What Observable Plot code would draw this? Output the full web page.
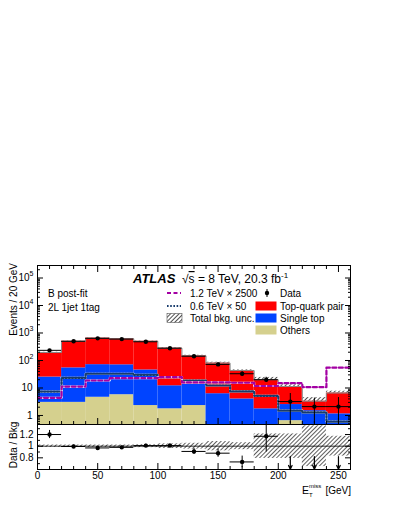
<!DOCTYPE html>
<html><head><meta charset="utf-8">
<script src="https://cdn.jsdelivr.net/npm/d3@7"></script>
<script src="https://cdn.jsdelivr.net/npm/@observablehq/plot@0.6"></script>
<style>
body{margin:0;background:#fff;}
#chart{position:relative;width:399px;height:516px;background:#fff;}
#chart svg{display:block;}
</style></head><body><div id="chart"></div>
<script>
// ---- data ----
const binEdges  = [0,20,40,60,80,100,120,140,160,180,200,220,240,260];
const others    = [3.0,3.0,4.6,5.7,2.3,1.75,2.3,0,0,0,0.65,0,0];
const singleTop = [22,51,66,64,43,10.3,11.7,6.2,4.0,1.75,1.85,1.5,1.15];
const ttbar     = [170,446,580,545,455,268,134,74,39,18.3,8.8,1.8,5.4];
const bkgUnc    = [0.02,0.02,0.02,0.02,0.025,0.04,0.05,0.08,0.06,0.21,0.21,0.35,0.17];
const dataVals  = [234,500,640,600,480,280,143,72,33,20,3.2,2.1,2.1];
const dataLo    = [219,478,615,576,458,263,131,64,27,16,0.5,0.5,0.5];
const dataHi    = [249,522,665,624,502,297,155,81,39,24.5,6.3,4.3,4.5];
const sig1200   = [4.4,11.3,18.7,22.7,23,25,16,16,15.5,11.8,15,10.7,55];
const sig600    = [7.4,23.5,33,33,30,25,18.7,12.3,7.5,5.2,1.5,1.3,0.6];
const ratioVals = [1.20,0.995,0.97,0.98,1.01,1.01,0.91,0.88,0.73,1.17,null,null,null];
const ratioErr  = [0.07,0.02,0.02,0.02,0.025,0.03,0.05,0.07,0.1,0.27,null,null,null];
const arrowBins = [10,11,12];
const yMajor    = [1,10,100,1e3,1e4,1e5];
const xMajor    = [0,50,100,150,200,250];
const rMajor    = [0.8,1,1.2];

// ---- colours / fonts ----
const C = {tt:"#ff0000", st:"#0044ff", oth:"#d5d08e", s1200:"#a300a3", s600:"#173b6c"};
const FONT = "'Liberation Sans', Arial, Helvetica, sans-serif";

const n = ttbar.length;
const idx = d3.range(n);
const centers = idx.map(i => (binEdges[i] + binEdges[i+1]) / 2);
const FLOOR = 0.1;
const rows = idx.map(i => {
  const a = others[i], b = a + singleTop[i], c = b + ttbar[i];
  return {x1: binEdges[i], x2: binEdges[i+1], o2: a, s1: Math.max(a, FLOOR), s2: b, t1: b, t2: c, u: bkgUnc[i]};
});
const steps = vals => vals.flatMap((v, i) => [{x: binEdges[i], y: v}, {x: binEdges[i+1], y: v}]);
const yDomain = [0.47, 2.85e5];
const yMinor = [];
for (let e = -1; e <= 5; e++) for (let m = 2; m <= 9; m++) { const v = m * 10 ** e; if (v >= yDomain[0] && v <= yDomain[1]) yMinor.push(v); }
const xMinor = d3.range(0, 261, 10).filter(v => v % 50 !== 0);
const rMinor = [0.7, 0.9, 1.1, 1.3];

const common = {width: 399, marginLeft: 37, marginRight: 49,
  style: {fontFamily: FONT, fontSize: "10px", background: "white", color: "black", overflow: "visible"}};

const main = Plot.plot({
  ...common, height: 424, marginTop: 265, marginBottom: 0,
  x: {domain: [0, 260]},
  y: {type: "log", domain: yDomain},
  marks: [
    Plot.rect(rows.filter(r => r.o2 > 0), {x1: "x1", x2: "x2", y1: () => FLOOR, y2: "o2", fill: C.oth, clip: true}),
    Plot.rect(rows, {x1: "x1", x2: "x2", y1: "s1", y2: "s2", fill: C.st, clip: true}),
    Plot.rect(rows, {x1: "x1", x2: "x2", y1: "t1", y2: "t2", fill: C.tt, clip: true}),
    Plot.rect(rows, {x1: "x1", x2: "x2", y1: "t2", y2: r => r.t2 * (1 + r.u), fill: "url(#hatchM)", clip: true}),
    Plot.line(steps(rows.map(r => r.t2)), {x: "x", y: "y", stroke: "#8a8a8a", strokeWidth: 1, clip: true}),
    Plot.line(steps(sig600), {x: "x", y: "y", stroke: "white", strokeWidth: 2.2, clip: true}),
    Plot.line(steps(sig600), {x: "x", y: "y", stroke: C.s600, strokeWidth: 2.2, strokeDasharray: "1.6,1.6", clip: true}),
    Plot.line(steps(sig1200), {x: "x", y: "y", stroke: "white", strokeWidth: 2.2, clip: true}),
    Plot.line(steps(sig1200), {x: "x", y: "y", stroke: C.s1200, strokeWidth: 2.2, strokeDasharray: "4,2.5", clip: true}),
    Plot.ruleX(idx, {x: i => centers[i], y1: i => dataLo[i], y2: i => dataHi[i], stroke: "black", strokeWidth: 1, clip: true}),
    Plot.ruleY(idx, {y: i => dataVals[i], x1: i => binEdges[i], x2: i => binEdges[i+1], stroke: "black", strokeWidth: 1, clip: true}),
    Plot.dot(idx, {x: i => centers[i], y: i => dataVals[i], r: 2.2, fill: "black", stroke: "none"}),
    // inward ticks
    Plot.axisY(yMajor, {anchor: "left", tickSize: -6, fill: "none", label: null}),
    Plot.axisY(yMinor, {anchor: "left", tickSize: -3, fill: "none", label: null}),
    Plot.axisY(yMajor, {anchor: "right", tickSize: -6, fill: "none", label: null}),
    Plot.axisY(yMinor, {anchor: "right", tickSize: -3, fill: "none", label: null}),
    Plot.axisX(xMajor, {anchor: "bottom", tickSize: -6, fill: "none", label: null}),
    Plot.axisX(xMinor, {anchor: "bottom", tickSize: -3, fill: "none", label: null}),
    Plot.axisX(xMajor, {anchor: "top", tickSize: -6, fill: "none", label: null}),
    Plot.axisX(xMinor, {anchor: "top", tickSize: -3, fill: "none", label: null}),
    // y tick labels with exponents
    Plot.text(yMajor.filter(d => d < 50), {y: d => d, frameAnchor: "left", textAnchor: "end", dx: -5, text: d => String(d), fontSize: 10, fill: "black"}),
    Plot.text(yMajor.filter(d => d >= 50), {y: d => d, frameAnchor: "left", textAnchor: "end", dx: -8, text: () => "10", fontSize: 10, fill: "black"}),
    Plot.text(yMajor.filter(d => d >= 50), {y: d => d, frameAnchor: "left", textAnchor: "start", dx: -8, dy: -4, text: d => String(Math.round(Math.log10(d))), fontSize: 7, fill: "black"}),
    Plot.frame({stroke: "black", strokeWidth: 1})
  ]
});

const ratioIdx = idx.filter(i => ratioVals[i] != null);
const ratio = Plot.plot({
  ...common, height: 92, marginTop: 0, marginBottom: 47,
  x: {domain: [0, 260]},
  y: {domain: [0.6, 1.372]},
  marks: [
    Plot.rect(idx, {x1: i => binEdges[i], x2: i => binEdges[i+1], y1: i => 1 - bkgUnc[i], y2: i => 1 + bkgUnc[i], fill: "url(#hatchR)", clip: true}),
    Plot.ruleY([1], {stroke: "black", strokeWidth: 0.8}),
    Plot.ruleX(ratioIdx, {x: i => centers[i], y1: i => ratioVals[i] - ratioErr[i], y2: i => ratioVals[i] + ratioErr[i], stroke: "black", strokeWidth: 1, clip: true}),
    Plot.ruleY(ratioIdx, {y: i => ratioVals[i], x1: i => binEdges[i], x2: i => binEdges[i+1], stroke: "black", strokeWidth: 1, clip: true}),
    Plot.dot(ratioIdx, {x: i => centers[i], y: i => ratioVals[i], r: 2.2, fill: "black", stroke: "none"}),
    Plot.arrow(arrowBins, {x1: i => centers[i], x2: i => centers[i], y1: () => 0.82, y2: () => 0.605, stroke: "black", strokeWidth: 1.2, headLength: 6, headAngle: 50}),
    Plot.axisY(rMajor, {anchor: "left", tickSize: -6, fill: "none", label: null}),
    Plot.axisY(rMinor, {anchor: "left", tickSize: -3, fill: "none", label: null}),
    Plot.axisY(rMajor, {anchor: "right", tickSize: -6, fill: "none", label: null}),
    Plot.axisY(rMinor, {anchor: "right", tickSize: -3, fill: "none", label: null}),
    Plot.axisX(xMajor, {anchor: "bottom", tickSize: -6, fill: "none", label: null}),
    Plot.axisX(xMinor, {anchor: "bottom", tickSize: -3, fill: "none", label: null}),
    Plot.axisY(rMajor, {anchor: "left", tickSize: 0, tickPadding: 4, tickFormat: d => d === 1 ? "1" : d.toFixed(1), label: null, fontSize: 10}),
    Plot.axisX(xMajor, {anchor: "bottom", tickSize: 0, tickPadding: 2, tickFormat: d => String(d), label: null, fontSize: 10}),
    Plot.frame({stroke: "black", strokeWidth: 1})
  ]
});

const chart = document.getElementById("chart");
chart.appendChild(main);
chart.appendChild(ratio);

function addHatch(svg, id, color, w) {
  const defs = svg.insert("defs", ":first-child");
  const p = defs.append("pattern").attr("id", id).attr("width", 3).attr("height", 3)
    .attr("patternUnits", "userSpaceOnUse").attr("patternTransform", "rotate(45)");
  p.append("line").attr("x1", 0.5).attr("y1", 0).attr("x2", 0.5).attr("y2", 3).attr("stroke", color).attr("stroke-width", w);
}
const sM = d3.select(main), sR = d3.select(ratio);
addHatch(sM, "hatchM", "#222", 0.8);
addHatch(sR, "hatchR", "#333", 0.8);

// ---- annotations (main) ----
const g = sM.append("g").attr("font-family", FONT).attr("fill", "black").attr("text-anchor", "start");
g.append("text").attr("x", 133).attr("y", 283).attr("font-size", 13).attr("font-weight", "bold").attr("font-style", "italic").text("ATLAS");
const t2 = g.append("text").attr("x", 182).attr("y", 283).attr("font-size", 12);
t2.append("tspan").text("√");
t2.append("tspan").attr("text-decoration", "overline").text("s");
t2.append("tspan").text(" = 8 TeV, 20.3 fb");
t2.append("tspan").attr("font-size", 8).attr("dy", -5).text("-1");
g.append("text").attr("x", 48).attr("y", 297).attr("font-size", 10).text("B post-fit");
g.append("text").attr("x", 48).attr("y", 311).attr("font-size", 10).text("2L 1jet 1tag");

const rowsY = [293, 306, 318, 330];
// left column
g.append("line").attr("x1", 167).attr("x2", 181).attr("y1", rowsY[0]).attr("y2", rowsY[0]).attr("stroke", C.s1200).attr("stroke-width", 2.2).attr("stroke-dasharray", "4,2.5");
g.append("line").attr("x1", 167).attr("x2", 181).attr("y1", rowsY[1]).attr("y2", rowsY[1]).attr("stroke", C.s600).attr("stroke-width", 2.2).attr("stroke-dasharray", "1.6,1.6");
g.append("rect").attr("x", 167).attr("y", rowsY[2] - 4.5).attr("width", 15).attr("height", 9).attr("fill", "url(#hatchM)").attr("stroke", "#555").attr("stroke-width", 0.6);
const leftLab = ["1.2 TeV × 2500", "0.6 TeV × 50", "Total bkg. unc."];
leftLab.forEach((s, k) => g.append("text").attr("x", 190).attr("y", rowsY[k] + 3.5).attr("font-size", 10).text(s));
// right column
g.append("line").attr("x1", 267).attr("x2", 267).attr("y1", rowsY[0] - 4).attr("y2", rowsY[0] + 4).attr("stroke", "black");
g.append("circle").attr("cx", 267).attr("cy", rowsY[0]).attr("r", 2.2).attr("fill", "black");
[C.tt, C.st, C.oth].forEach((c, k) => g.append("rect").attr("x", 255.5).attr("y", rowsY[k+1] - 4.5).attr("width", 21).attr("height", 9).attr("fill", c));
const rightLab = ["Data", "Top-quark pair", "Single top", "Others"];
rightLab.forEach((s, k) => g.append("text").attr("x", 280).attr("y", rowsY[k] + 3.5).attr("font-size", 10).text(s));
g.append("text").attr("transform", "translate(17,263) rotate(-90)").attr("text-anchor", "end").attr("font-size", 10).text("Events / 20 GeV");

// ---- annotations (ratio) ----
const h = sR.append("g").attr("font-family", FONT).attr("fill", "black").attr("text-anchor", "start");
h.append("text").attr("transform", "translate(17,21) rotate(-90)").attr("text-anchor", "middle").attr("font-size", 10).text("Data / Bkg");
h.append("text").attr("x", 309).attr("y", 70).attr("text-anchor", "end").attr("font-size", 10.5).text("E");
h.append("text").attr("x", 309).attr("y", 64).attr("font-size", 6).text("miss");
h.append("text").attr("x", 309).attr("y", 73).attr("font-size", 6).text("T");
h.append("text").attr("x", 351).attr("y", 70).attr("text-anchor", "end").attr("font-size", 10).text("[GeV]");
</script></body></html>
